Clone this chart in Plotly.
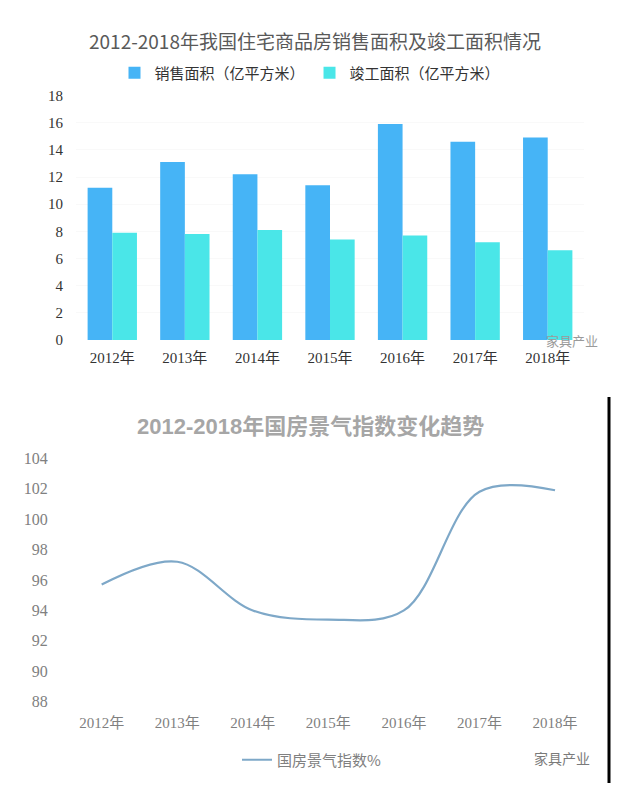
import plotly.graph_objects as go

years = ["2012年", "2013年", "2014年", "2015年", "2016年", "2017年", "2018年"]
sales_area = [11.2, 13.1, 12.2, 11.4, 15.9, 14.6, 14.9]
completed_area = [7.9, 7.8, 8.1, 7.4, 7.7, 7.2, 6.6]
climate_index = [95.7, 97.2, 94.0, 93.4, 94.0, 101.8, 101.9]

# page body has an 8px default margin; figure sized to fit inside the window
OFF = 8
W, H = 617, 782
def px(x):
    return (x - OFF) / W
def py(y):
    return 1 - (y - OFF) / H

fig = go.Figure()
fig.add_trace(go.Bar(x=years, y=sales_area, name="销售面积（亿平方米）",
                     marker=dict(color="#46b4f6", line=dict(width=0)),
                     xaxis="x", yaxis="y", legend="legend"))
fig.add_trace(go.Bar(x=years, y=completed_area, name="竣工面积（亿平方米）",
                     marker=dict(color="#4ae6e8", line=dict(width=0)),
                     xaxis="x", yaxis="y", legend="legend"))
fig.add_trace(go.Scatter(x=years, y=climate_index, name="国房景气指数%",
                         mode="lines", line=dict(color="#7ea8c8", width=2.2, shape="spline", smoothing=1.0),
                         xaxis="x2", yaxis="y2", legend="legend2"))

serif = "Liberation Serif, Noto Sans CJK SC"
sans = "Noto Sans CJK SC"

fig.update_layout(
    width=W, height=H,
    margin=dict(l=0, r=0, t=0, b=0, autoexpand=False),
    paper_bgcolor="white", plot_bgcolor="white",
    barmode="group", bargap=0.32, bargroupgap=0,
    xaxis=dict(domain=[px(76), px(584)], anchor="y", showgrid=False, zeroline=False,
               showline=False, ticks="outside", ticklen=4, tickcolor="rgba(0,0,0,0)",
               automargin=False,
               tickfont=dict(family=serif, size=15, color="#333333")),
    yaxis=dict(domain=[py(340), py(95.5)], anchor="x", range=[0, 18], dtick=2,
               showgrid=True, gridcolor="#f9f9f9", zeroline=False, showline=False,
               ticks="outside", ticklen=9, tickcolor="rgba(0,0,0,0)", automargin=False,
               tickfont=dict(family=serif, size=15, color="#333333")),
    xaxis2=dict(domain=[px(63.9), px(592.8)], anchor="y2", range=[-0.5, 6.5], type="category",
                showgrid=False, zeroline=False, showline=False, automargin=False,
                ticks="outside", ticklen=7, tickcolor="rgba(0,0,0,0)",
                tickfont=dict(family=serif, size=15, color="#808080")),
    yaxis2=dict(domain=[py(701.7), py(458.3)], anchor="x2", range=[88, 104], dtick=2,
                showgrid=False, zeroline=False, showline=False, automargin=False,
                ticks="outside", ticklen=12, tickcolor="rgba(0,0,0,0)",
                tickfont=dict(family=serif, size=16, color="#808080")),
    legend=dict(orientation="h", x=px(310), xanchor="center", y=py(73), yanchor="middle",
                font=dict(family=sans, size=15, color="#333333"),
                bgcolor="rgba(0,0,0,0)"),
    legend2=dict(orientation="h", x=px(312), xanchor="center", y=py(760), yanchor="middle",
                 font=dict(family=sans, size=15, color="#808080"),
                 bgcolor="rgba(0,0,0,0)"),
    showlegend=True,
)

fig.add_annotation(text="2012-2018年我国住宅商品房销售面积及竣工面积情况", x=px(315), y=py(40),
                   xref="paper", yref="paper", showarrow=False, xanchor="center", yanchor="middle",
                   font=dict(family=sans, size=19, color="#595959"))
fig.add_annotation(text="<b>2012-2018年国房景气指数变化趋势</b>", x=px(310), y=py(426),
                   xref="paper", yref="paper", showarrow=False, xanchor="center", yanchor="middle",
                   font=dict(family="Liberation Sans, Noto Sans CJK SC", size=22, color="#a6a6a6"))
fig.add_annotation(text="家具产业", x=px(572), y=py(340), xref="paper", yref="paper", showarrow=False,
                   xanchor="center", yanchor="middle", font=dict(family=sans, size=13, color="#9a9a9a"))
fig.add_annotation(text="家具产业", x=px(562), y=py(758), xref="paper", yref="paper", showarrow=False,
                   xanchor="center", yanchor="middle", font=dict(family=sans, size=14, color="#7a7a7a"))
fig.add_shape(type="line", xref="paper", yref="paper", x0=px(609), x1=px(609), y0=py(397), y1=py(783),
              line=dict(color="black", width=3))

fig.write_html("out.html")
